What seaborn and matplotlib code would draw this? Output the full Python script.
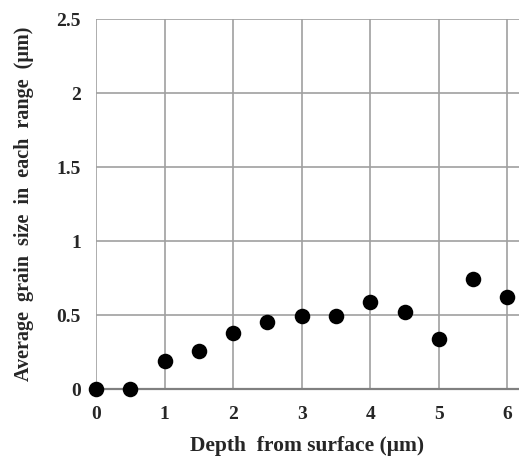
import numpy as np
import pandas as pd
import matplotlib
matplotlib.use("Agg")
import matplotlib.pyplot as plt
import seaborn as sns

# data
depth = [0, 0.5, 1, 1.5, 2, 2.5, 3, 3.5, 4, 4.5, 5, 5.5, 6]
grain_size = [0, 0, 0.19, 0.26, 0.38, 0.45, 0.49, 0.49, 0.59, 0.52, 0.34, 0.74, 0.62]
x_ticks = [0, 1, 2, 3, 4, 5, 6]
y_ticks = [0, 0.5, 1, 1.5, 2, 2.5]
y_tick_labels = ["0", "0.5", "1", "1.5", "2", "2.5"]

df = pd.DataFrame({"depth": depth, "size": grain_size})

sns.set_style("white")
plt.rcParams["font.family"] = ["Liberation Serif", "DejaVu Serif"]
plt.rcParams["font.weight"] = "bold"

fig = plt.figure(figsize=(5.19, 4.59), dpi=100)
ax = fig.add_axes([0.185, 0.1525, 0.815, 0.806])

sns.scatterplot(data=df, x="depth", y="size", ax=ax, color="black",
                s=125, edgecolor="black", linewidth=0, zorder=3, clip_on=False)

ax.set_xlim(0, 6.17)
ax.set_ylim(0, 2.5)
ax.set_xticks(x_ticks)
ax.set_yticks(y_ticks)
ax.set_yticklabels(y_tick_labels)
ax.grid(True, color="#a0a0a0", linewidth=1.2)
ax.set_axisbelow(True)
for side in ["top", "right", "left"]:
    ax.spines[side].set_visible(False)
ax.spines["bottom"].set_color("#808080")
ax.spines["bottom"].set_linewidth(1.6)
ax.tick_params(axis="y", length=0, labelsize=14, pad=11)
ax.tick_params(axis="x", length=0, labelsize=14, pad=12)
for lbl in ax.get_xticklabels() + ax.get_yticklabels():
    lbl.set_fontweight("bold")

ax.set_xlabel("Depth  from surface (μm)", fontsize=15.5, fontweight="bold", labelpad=9.5)
ax.set_ylabel("Average  grain  size  in  each  range  (μm)", fontsize=14.5,
              fontweight="bold", labelpad=16)

fig.savefig("out.png", dpi=100)
